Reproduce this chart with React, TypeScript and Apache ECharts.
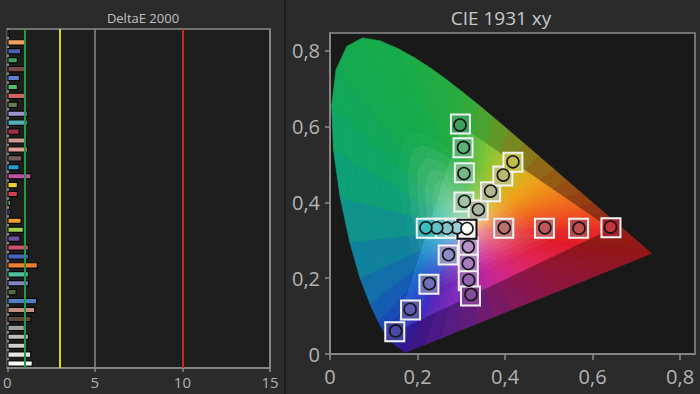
import React, { useEffect, useRef } from 'react';
import * as echarts from 'echarts';

const FONT = "'Open Sans', 'Noto Sans', 'DejaVu Sans', sans-serif";

// ================= Left panel: DeltaE 2000 =================
const deltaE = [
  0.15, 1.05, 0.8, 0.61, 1.05, 0.73, 0.61, 1.05, 0.61, 1.18,
  1.18, 0.71, 1.11, 1.18, 0.86, 0.71, 1.39, 0.61, 0.61, 0.23,
  0.2, 0.82, 0.95, 0.76, 1.24, 1.24, 1.75, 1.24, 1.24, 0.54,
  1.71, 1.6, 1.39, 1.01, 1.24, 1.15, 1.37, 1.46,
];
const barColors = [
  '#9b5cc4', '#f0a060', '#5060b0', '#3fa060', '#7e4848', '#6080d0', '#50c070', '#d06464',
  '#5f7f4f', '#a090d4', '#50b0b8', '#a03048', '#d09890', '#e0a090', '#706058', '#20a0d0',
  '#c452a4', '#f0d030', '#d04050', '#40c050', '#4050c0', '#f0a030', '#a0d050', '#7050a0',
  '#d05070', '#4464c4', '#f08030', '#50c0a0', '#8484c4', '#507040', '#5080c0', '#c09080',
  '#604838', '#a0a0a0', '#bcbcbc', '#d0d0d0', '#e6e6e6', '#ffffff',
];
const patchNames = deltaE.map((_, i) => String(i + 1));
const deltaTicks = [0, 5, 10, 15];
const deltaThresholds = [1, 3, 10];
const thresholdColors = ['#1f9a3e', '#d6d61e', '#c42828'];

// ================= Right panel: CIE 1931 xy =================
const locusWl = [
  380, 385, 390, 395, 400, 405, 410, 415, 420, 425, 430, 435, 440, 445, 450, 455, 460, 465, 470, 475,
  480, 485, 490, 495, 500, 505, 510, 515, 520, 525, 530, 535, 540, 545, 550, 555, 560, 565, 570, 575,
  580, 585, 590, 595, 600, 605, 610, 615, 620, 625, 630, 635, 640, 645, 650, 660, 670, 700,
];
const locusX = [
  0.1741, 0.174, 0.1738, 0.1736, 0.1733, 0.173, 0.1726, 0.1721, 0.1714, 0.1703, 0.1689, 0.1669, 0.1644, 0.1611, 0.1566, 0.151, 0.144, 0.1355, 0.1241, 0.1096,
  0.0913, 0.0687, 0.0454, 0.0235, 0.0082, 0.0039, 0.0139, 0.0389, 0.0743, 0.1142, 0.1547, 0.1929, 0.2296, 0.2658, 0.3016, 0.3373, 0.3731, 0.4087, 0.4441, 0.4788,
  0.5125, 0.5448, 0.5752, 0.6029, 0.627, 0.6482, 0.6658, 0.6801, 0.6915, 0.7006, 0.7079, 0.714, 0.719, 0.723, 0.726, 0.73, 0.732, 0.7347,
];
const locusY = [
  0.005, 0.005, 0.0049, 0.0049, 0.0048, 0.0048, 0.0048, 0.0048, 0.0051, 0.0058, 0.0069, 0.0086, 0.0109, 0.0138, 0.0177, 0.0227, 0.0297, 0.0399, 0.0578, 0.0868,
  0.1327, 0.2007, 0.295, 0.4127, 0.5384, 0.6548, 0.7502, 0.812, 0.8338, 0.8262, 0.8059, 0.7816, 0.7543, 0.7243, 0.6923, 0.6589, 0.6245, 0.5896, 0.5547, 0.5202,
  0.4866, 0.4544, 0.4242, 0.3965, 0.3725, 0.3514, 0.334, 0.3197, 0.3083, 0.2993, 0.292, 0.2859, 0.2809, 0.277, 0.274, 0.27, 0.268, 0.2653,
];
const gamutX = [0.64, 0.3, 0.15];
const gamutY = [0.33, 0.6, 0.06];
const whitePoint = [0.3127, 0.329];
const cieTicks = [0, 0.2, 0.4, 0.6, 0.8];

// edge colours of the diagram (outside / inside the display gamut)
const stopWl = [380, 450, 465, 475, 485, 492, 500, 510, 530, 550, 560, 570, 580, 590, 600, 615, 700];
const stopOuter = ['#3a1688', '#301c9c', '#1c38b0', '#1654b8', '#1278a4', '#0e9490', '#0ea66c', '#12aa52', '#18ac4a', '#2aac3e', '#56a02c', '#84801c', '#946214', '#944614', '#943016', '#941c16', '#921616'];
const stopInner = ['#5228b8', '#4030c4', '#2c4cd0', '#2464d0', '#1894c8', '#14b0b8', '#18b888', '#1cb460', '#22b456', '#40b84a', '#7cc43a', '#c4c424', '#f0a01c', '#f0741c', '#f04c24', '#e82626', '#e01a26'];
const purpleS = [0, 0.3, 0.55, 0.8, 1];
const purpleOuter = ['#921616', '#921636', '#84185a', '#5a1e84', '#3a1688'];
const purpleInner = ['#e01a26', '#e02656', '#d0268e', '#8a2cbc', '#5228b8'];

// patches: red, green, blue, cyan, magenta, yellow (25..100%), white last
const targetX = [0.397, 0.49, 0.568, 0.642, 0.306, 0.307, 0.304, 0.298, 0.27, 0.226, 0.184, 0.148, 0.289, 0.266, 0.243, 0.22, 0.316, 0.316, 0.316, 0.321, 0.3385, 0.367, 0.395, 0.418, 0.313];
const targetY = [0.332, 0.332, 0.332, 0.333, 0.401, 0.478, 0.544, 0.607, 0.261, 0.184, 0.116, 0.059, 0.332, 0.332, 0.332, 0.332, 0.283, 0.237, 0.193, 0.153, 0.38, 0.428, 0.47, 0.506, 0.329];
const targetColors = [
  '#c47a7a', '#c85e5e', '#c04448', '#a8202c',
  '#98c8a4', '#78c08c', '#58b474', '#38a45c',
  '#9494cc', '#7474c0', '#5858b0', '#4040a4',
  '#a8d4d8', '#84ccd0', '#5cc4c8', '#34bcc0',
  '#bc98cc', '#ac7cc0', '#9c60b0', '#883c98',
  '#b4bca4', '#bcbc94', '#c0c074', '#c4c44c',
  '#f4f4f4',
];
const measX = [0.398, 0.491, 0.569, 0.641, 0.307, 0.306, 0.305, 0.297, 0.271, 0.227, 0.183, 0.15, 0.29, 0.267, 0.244, 0.219, 0.316, 0.316, 0.317, 0.322, 0.339, 0.367, 0.396, 0.418, 0.313];
const measY = [0.333, 0.333, 0.332, 0.335, 0.403, 0.476, 0.545, 0.604, 0.262, 0.186, 0.118, 0.061, 0.333, 0.332, 0.333, 0.333, 0.283, 0.239, 0.195, 0.157, 0.381, 0.43, 0.472, 0.507, 0.331];
const measColors = [
  '#b87070', '#bc5858', '#c04c50', '#c8343c',
  '#a0c4a4', '#74b888', '#5cb078', '#40a060',
  '#8c8cc8', '#7070bc', '#5c5cb4', '#4848a8',
  '#a0ccd4', '#84c4cc', '#60c0c4', '#38c0c0',
  '#b494c8', '#a87cc0', '#9464ac', '#844c9c',
  '#a8b4a0', '#b4b490', '#b8b870', '#c0bc48',
  '#ffffff',
];

// ---------- colour helpers for the chromaticity background ----------
type Pt = [number, number];
const hex = (c: string) => [parseInt(c.slice(1, 3), 16), parseInt(c.slice(3, 5), 16), parseInt(c.slice(5, 7), 16)];
const mix = (a: number[], b: number[], t: number) => [a[0] + (b[0] - a[0]) * t, a[1] + (b[1] - a[1]) * t, a[2] + (b[2] - a[2]) * t];
const css = (c: number[]) => `rgb(${Math.round(c[0])},${Math.round(c[1])},${Math.round(c[2])})`;
const WHITE = hex('#f4f2f2');

function interpStops(v: number, keys: number[], cols: string[]) {
  if (v <= keys[0]) return hex(cols[0]);
  for (let i = 0; i < keys.length - 1; i++) {
    if (v <= keys[i + 1]) return mix(hex(cols[i]), hex(cols[i + 1]), (v - keys[i]) / (keys[i + 1] - keys[i]));
  }
  return hex(cols[cols.length - 1]);
}

type BPt = { p: Pt; outer: number[]; inner: number[] };
const boundary: BPt[] = locusWl.map((wl, i) => ({
  p: [locusX[i], locusY[i]] as Pt,
  outer: interpStops(wl, stopWl, stopOuter),
  inner: interpStops(wl, stopWl, stopInner),
}));
{
  const last = boundary[boundary.length - 1].p;
  const first = boundary[0].p;
  const steps = 14;
  for (let k = 1; k < steps; k++) {
    const s = k / steps;
    boundary.push({
      p: [last[0] + (first[0] - last[0]) * s, last[1] + (first[1] - last[1]) * s],
      outer: interpStops(s, purpleS, purpleOuter),
      inner: interpStops(s, purpleS, purpleInner),
    });
  }
}
const W: Pt = [whitePoint[0], whitePoint[1]];

function shade(px: number, py: number, inner: boolean): string {
  const dx = px - W[0];
  const dy = py - W[1];
  if (Math.abs(dx) + Math.abs(dy) < 1e-9) return css(WHITE);
  let best = Infinity;
  let col = WHITE;
  const n = boundary.length;
  for (let j = 0; j < n; j++) {
    const a = boundary[j];
    const b = boundary[(j + 1) % n];
    const ex = b.p[0] - a.p[0];
    const ey = b.p[1] - a.p[1];
    const det = -dx * ey + ex * dy;
    if (Math.abs(det) < 1e-14) continue;
    const rx = a.p[0] - W[0];
    const ry = a.p[1] - W[1];
    const s = (-rx * ey + ex * ry) / det;
    const u = (dx * ry - dy * rx) / det;
    if (s > 0 && u >= -1e-6 && u <= 1 + 1e-6 && s < best) {
      best = s;
      const uu = Math.max(0, Math.min(1, u));
      col = inner ? mix(a.inner, b.inner, uu) : mix(a.outer, b.outer, uu);
    }
  }
  const t = Math.min(1, 1 / best);
  const f = Math.pow(Math.min(1, t / 0.5), 0.45);
  return css(mix(WHITE, col, f));
}

const bandT = [0, 0.015, 0.035, 0.06, 0.09, 0.125, 0.165, 0.21, 0.26, 0.315, 0.375, 0.44, 0.51, 0.585, 0.665, 0.75, 0.84, 0.92, 1];
type Poly = { pts: Pt[]; fill: string };
const bgPolys: Poly[] = [];
function addFan(edge: Pt[], inner: boolean) {
  const P = (p: Pt, t: number): Pt => [W[0] + (p[0] - W[0]) * t, W[1] + (p[1] - W[1]) * t];
  for (let j = 0; j < edge.length; j++) {
    const a = edge[j];
    const b = edge[(j + 1) % edge.length];
    const mid: Pt = [(a[0] + b[0]) / 2, (a[1] + b[1]) / 2];
    for (let k = 0; k < bandT.length - 1; k++) {
      const t0 = bandT[k];
      const t1 = bandT[k + 1];
      const c = P(mid, (t0 + t1) / 2);
      bgPolys.push({ pts: [P(a, t0), P(b, t0), P(b, t1), P(a, t1)], fill: shade(c[0], c[1], inner) });
    }
  }
}
addFan(boundary.map((b) => b.p), false);
{
  const tri: Pt[] = [];
  const sub = 30;
  for (let i = 0; i < 3; i++) {
    const a: Pt = [gamutX[i], gamutY[i]];
    const b: Pt = [gamutX[(i + 1) % 3], gamutY[(i + 1) % 3]];
    for (let k = 0; k < sub; k++) tri.push([a[0] + (b[0] - a[0]) * (k / sub), a[1] + (b[1] - a[1]) * (k / sub)]);
  }
  addFan(tri, true);
}

const fmtComma = (v: number) => (v === 0 ? '0' : v.toFixed(1).replace('.', ','));

export default function App() {
  const ref = useRef<HTMLDivElement>(null);
  useEffect(() => {
    document.body.style.margin = '0';
    if (!ref.current) return;
    const chart = echarts.init(ref.current, undefined, { renderer: 'svg' });
    const axisGray = '#8c8c8c';
    chart.setOption({
      animation: false,
      backgroundColor: '#2b2b2b',
      textStyle: { fontFamily: FONT },
      title: [
        { text: 'DeltaE 2000', left: 138, top: 6, textAlign: 'center', textStyle: { color: '#c0c0c0', fontSize: 13, fontWeight: 'normal', fontFamily: FONT } },
        { text: 'CIE 1931 xy', left: 496, top: 3, textAlign: 'center', textStyle: { color: '#c8c8c8', fontSize: 19, fontWeight: 'normal', fontFamily: FONT } },
      ],
      graphic: [{ type: 'rect', shape: { x: 284, y: 0, width: 2, height: 394 }, style: { fill: '#1b1b1b' }, silent: true }],
      grid: [
        { left: 6, top: 29, width: 264, height: 339, show: true, backgroundColor: '#1e1e1f', borderColor: axisGray, borderWidth: 1.5 },
        { left: 330, top: 33, width: 365, height: 321, show: true, backgroundColor: '#19191a', borderColor: axisGray, borderWidth: 1.5 },
      ],
      xAxis: [
        {
          gridIndex: 0, type: 'value', min: deltaTicks[0], max: deltaTicks[deltaTicks.length - 1], interval: 5,
          axisLine: { show: true, lineStyle: { color: axisGray, width: 1.5 } },
          axisTick: { show: true, length: 4, lineStyle: { color: axisGray, width: 1.5 } },
          axisLabel: { color: '#b0b0b0', fontSize: 15, margin: 6, fontFamily: FONT },
          splitLine: { show: true, lineStyle: { color: '#8a8a8a', width: 1.5 } },
        },
        {
          gridIndex: 1, type: 'value', min: 0, max: 0.834,
          axisLine: { show: true, onZero: false, lineStyle: { color: axisGray, width: 1.5 } },
          axisTick: { show: true, length: 6, customValues: cieTicks, lineStyle: { color: axisGray, width: 1.5 } },
          axisLabel: { customValues: cieTicks, formatter: fmtComma, color: '#b4b4b4', fontSize: 20, margin: 12, fontFamily: FONT },
          splitLine: { show: false },
        },
      ],
      yAxis: [
        {
          gridIndex: 0, type: 'category', data: patchNames, inverse: true,
          axisLine: { show: true, lineStyle: { color: axisGray, width: 1.5 } },
          axisTick: { show: false }, axisLabel: { show: false }, splitLine: { show: false },
        },
        {
          gridIndex: 1, type: 'value', min: 0, max: 0.847,
          axisLine: { show: true, onZero: false, lineStyle: { color: axisGray, width: 1.5 } },
          axisTick: { show: true, length: 5, customValues: cieTicks, lineStyle: { color: axisGray, width: 1.5 } },
          axisLabel: { customValues: cieTicks, formatter: fmtComma, color: '#b4b4b4', fontSize: 20, margin: 10, fontFamily: FONT },
          splitLine: { show: false },
        },
      ],
      series: [
        {
          type: 'bar', xAxisIndex: 0, yAxisIndex: 0, barWidth: 6.5,
          data: deltaE.map((v, i) => ({ value: v, itemStyle: { color: barColors[i], borderColor: '#080808', borderWidth: 1.2 } })),
          markLine: {
            silent: true, symbol: ['none', 'none'], label: { show: false },
            data: deltaThresholds.map((t, i) => ({ xAxis: t, lineStyle: { color: thresholdColors[i], width: 2, type: 'solid' } })),
          },
        },
        {
          type: 'custom', xAxisIndex: 1, yAxisIndex: 1, silent: true, z: 1,
          data: [[whitePoint[0], whitePoint[1]]],
          renderItem: (_params: any, api: any) => ({
            type: 'group',
            children: bgPolys.map((pg) => ({
              type: 'polygon',
              shape: { points: pg.pts.map((p) => api.coord(p)) },
              style: { fill: pg.fill, stroke: pg.fill, lineWidth: 0.8 },
            })),
          }),
        },
        {
          type: 'scatter', xAxisIndex: 1, yAxisIndex: 1, symbol: 'rect', symbolSize: 19, z: 3, silent: true,
          data: targetX.map((x, i) => ({
            value: [x, targetY[i]],
            itemStyle: { color: targetColors[i], borderColor: i === targetX.length - 1 ? '#111111' : '#f2f2f2', borderWidth: 2, opacity: 1 },
          })),
        },
        {
          type: 'scatter', xAxisIndex: 1, yAxisIndex: 1, symbol: 'circle', symbolSize: 12, z: 4, silent: true,
          data: measX.map((x, i) => ({
            value: [x, measY[i]],
            itemStyle: { color: measColors[i], borderColor: '#161616', borderWidth: 1.6, opacity: 1 },
          })),
        },
      ],
    });
    return () => chart.dispose();
  }, []);
  return <div ref={ref} style={{ position: 'fixed', left: 0, top: 0, width: 700, height: 394 }} />;
}
